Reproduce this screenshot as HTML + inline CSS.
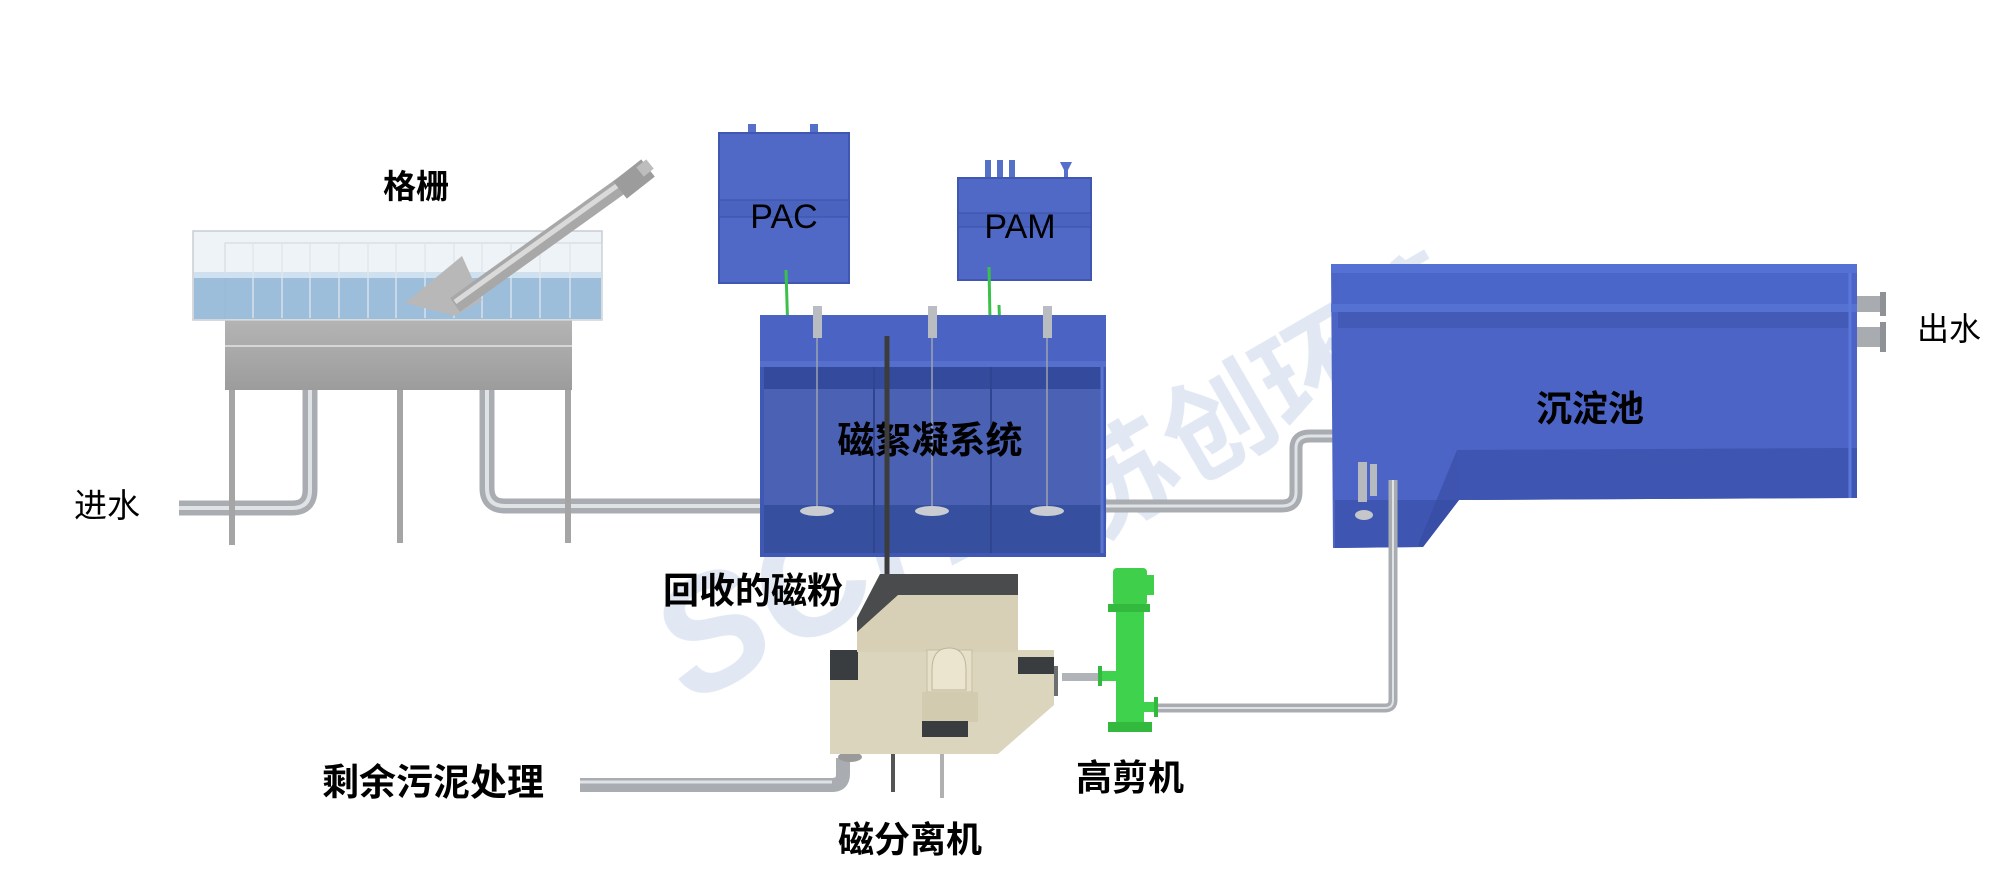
<!DOCTYPE html>
<html><head><meta charset="utf-8">
<style>
html,body{margin:0;padding:0;background:#fff;}
svg{display:block;}
text{font-family:"Liberation Sans","Noto Sans CJK SC",sans-serif;}
</style></head>
<body>
<svg width="2000" height="891" viewBox="0 0 2000 891" xmlns="http://www.w3.org/2000/svg">
<defs>
<linearGradient id="metal" x1="0" y1="0" x2="0" y2="1">
<stop offset="0" stop-color="#b4b4b4"/><stop offset="1" stop-color="#9c9c9c"/>
</linearGradient>
</defs>

<!-- Watermark -->
<g opacity="0.35" fill="#a9bedd">
<text x="0" y="0" font-size="160" font-weight="bold" font-style="italic" transform="translate(690,705) rotate(-28)">SCHS</text>
<text x="0" y="0" font-size="110" font-weight="bold" transform="translate(1095,540) rotate(-30)">苏创环境</text>
</g>

<!-- ===== Screen (格栅) ===== -->
<path d="M179 508 H292 Q310 508 310 490 V385" fill="none" stroke="#a9adb2" stroke-width="15"/>
<path d="M179 508 H292 Q310 508 310 490 V385" fill="none" stroke="#dfe3e6" stroke-width="4"/>
<path d="M487 385 V488 Q487 506 505 506 H762" fill="none" stroke="#a9adb2" stroke-width="15"/>
<path d="M487 385 V488 Q487 506 505 506 H762" fill="none" stroke="#dfe3e6" stroke-width="4"/>
<rect x="229" y="385" width="6" height="160" fill="#a5a5a5"/>
<rect x="397" y="385" width="6" height="158" fill="#a5a5a5"/>
<rect x="565" y="385" width="6" height="158" fill="#a5a5a5"/>
<rect x="225" y="320" width="347" height="70" fill="url(#metal)"/>
<line x1="225" y1="346" x2="572" y2="346" stroke="#d6d6d6" stroke-width="2"/>
<rect x="193" y="231" width="409" height="89" fill="#eef3f8" stroke="#c8cdd3" stroke-width="1.5"/>
<rect x="225" y="243" width="377" height="77" fill="none" stroke="#d2d6da" stroke-width="1"/>
<rect x="194" y="272" width="407" height="47" fill="#8db4d6" opacity="0.85"/>
<rect x="194" y="272" width="407" height="6" fill="#cfe1ef"/>
<g stroke="#dfe6ec" stroke-width="1.3">
<line x1="253" y1="243" x2="253" y2="318"/><line x1="282" y1="243" x2="282" y2="318"/>
<line x1="310" y1="243" x2="310" y2="318"/><line x1="339" y1="243" x2="339" y2="318"/>
<line x1="368" y1="243" x2="368" y2="318"/><line x1="396" y1="243" x2="396" y2="318"/>
<line x1="425" y1="243" x2="425" y2="318"/><line x1="454" y1="243" x2="454" y2="318"/>
<line x1="482" y1="243" x2="482" y2="318"/><line x1="511" y1="243" x2="511" y2="318"/>
<line x1="540" y1="243" x2="540" y2="318"/><line x1="570" y1="243" x2="570" y2="318"/>
</g>
<polygon points="405,303 462,256 482,300 455,316" fill="#b8b8b8"/>
<line x1="455" y1="305" x2="632" y2="178" stroke="#a8a8a8" stroke-width="17"/>
<line x1="455" y1="302" x2="632" y2="175" stroke="#dadada" stroke-width="5"/>
<line x1="620" y1="190" x2="648" y2="168" stroke="#9c9c9c" stroke-width="22"/>
<line x1="640" y1="172" x2="650" y2="164" stroke="#bdbdbd" stroke-width="12"/>

<!-- ===== PAC / PAM ===== -->
<rect x="748" y="124" width="8" height="14" fill="#5470c8"/>
<rect x="810" y="124" width="8" height="14" fill="#5470c8"/>
<rect x="719" y="133" width="130" height="150" fill="#5069c6" stroke="#3f57b0" stroke-width="2"/>
<rect x="719" y="200" width="130" height="17" fill="#4963bf" stroke="#3a51a8" stroke-width="1"/>
<text x="784" y="228" font-size="34" text-anchor="middle" fill="#000">PAC</text>

<rect x="985" y="160" width="6" height="20" fill="#5470c8"/>
<rect x="997" y="160" width="6" height="20" fill="#5470c8"/>
<rect x="1009" y="160" width="6" height="20" fill="#5470c8"/>
<polygon points="1060,162 1072,162 1068,170 1068,180 1064,180 1064,170" fill="#5470c8"/>
<rect x="958" y="178" width="133" height="102" fill="#5069c6" stroke="#3f57b0" stroke-width="2"/>
<rect x="958" y="213" width="133" height="14" fill="#4963bf" stroke="#3a51a8" stroke-width="1"/>
<text x="1020" y="238" font-size="34" text-anchor="middle" fill="#000">PAM</text>

<line x1="786" y1="270" x2="788" y2="336" stroke="#3cc04c" stroke-width="3"/>
<line x1="989" y1="267" x2="990" y2="320" stroke="#3cc04c" stroke-width="3"/>
<line x1="999" y1="305" x2="1000" y2="333" stroke="#3cc04c" stroke-width="3"/>

<!-- ===== Floc tank ===== -->
<rect x="760" y="315" width="346" height="242" fill="#3f58b4"/>
<rect x="760" y="315" width="346" height="46" fill="#4b64c3"/>
<rect x="760" y="361" width="346" height="6" fill="#5570cc"/>
<rect x="764" y="367" width="338" height="22" fill="#2f4593" opacity="0.7"/>
<rect x="764" y="389" width="338" height="116" fill="#4a61b4"/>
<rect x="764" y="505" width="338" height="48" fill="#36509f"/>
<line x1="874" y1="367" x2="874" y2="553" stroke="#2f4590" stroke-width="2"/>
<line x1="991" y1="367" x2="991" y2="553" stroke="#2f4590" stroke-width="2"/>
<line x1="1102" y1="367" x2="1102" y2="553" stroke="#5a74d0" stroke-width="3"/>
<g fill="#b9bcc0">
<rect x="813" y="306" width="9" height="32"/><rect x="928" y="306" width="9" height="32"/><rect x="1043" y="306" width="9" height="32"/>
</g>
<g stroke="#9ea3ad" stroke-width="1.5">
<line x1="817" y1="338" x2="817" y2="510"/><line x1="932" y1="338" x2="932" y2="510"/><line x1="1047" y1="338" x2="1047" y2="510"/>
</g>
<g fill="#c9ccd0">
<ellipse cx="817" cy="511" rx="17" ry="5"/><ellipse cx="932" cy="511" rx="17" ry="5"/><ellipse cx="1047" cy="511" rx="17" ry="5"/>
</g>
<text x="930" y="453" font-size="37" font-weight="bold" text-anchor="middle" fill="#000">磁絮凝系统</text>
<line x1="887" y1="336" x2="887" y2="592" stroke="#3c3c3c" stroke-width="5"/>

<path d="M1106 506 H1282 Q1296 506 1296 492 V448 Q1296 436 1310 436 H1333" fill="none" stroke="#a9adb2" stroke-width="13"/>
<path d="M1106 506 H1282 Q1296 506 1296 492 V448 Q1296 436 1310 436 H1333" fill="none" stroke="#e0e3e6" stroke-width="3"/>

<!-- ===== Settling tank ===== -->
<polygon points="1331,264 1857,264 1857,498 1459,500 1423,547 1333,548" fill="#4b64c6"/>
<rect x="1331" y="264" width="526" height="9" fill="#5571d3"/>
<rect x="1338" y="273" width="512" height="30" fill="#4a66c9"/>
<rect x="1331" y="304" width="526" height="8" fill="#5572d2"/>
<rect x="1338" y="312" width="512" height="16" fill="#3d55ab" opacity="0.6"/>
<polygon points="1457,450 1857,448 1857,498 1459,500" fill="#3e56b2"/>
<polygon points="1335,500 1459,500 1423,547 1335,548" fill="#3e56b2"/>
<polygon points="1457,450 1459,500 1423,547 1418,545" fill="#3549a0" opacity="0.6"/>
<line x1="1850" y1="273" x2="1850" y2="498" stroke="#5a78db" stroke-width="3"/>
<text x="1590" y="421" font-size="36" font-weight="bold" text-anchor="middle" fill="#000">沉淀池</text>
<rect x="1857" y="296" width="26" height="16" fill="#a8acb0"/>
<rect x="1880" y="292" width="6" height="24" fill="#8e9297"/>
<rect x="1857" y="327" width="26" height="20" fill="#a8acb0"/>
<rect x="1880" y="322" width="6" height="30" fill="#8e9297"/>
<text x="1917" y="340" font-size="32" fill="#000">出水</text>
<rect x="1358" y="462" width="9" height="40" fill="#b6b9bd"/>
<rect x="1370" y="464" width="7" height="32" fill="#b6b9bd"/>
<ellipse cx="1364" cy="515" rx="9" ry="5" fill="#c4c6c9"/>

<path d="M1393 480 V700 Q1393 708 1385 708 H1154" fill="none" stroke="#a9adb2" stroke-width="9"/>
<path d="M1393 480 V700 Q1393 708 1385 708 H1154" fill="none" stroke="#e0e3e6" stroke-width="2"/>

<!-- ===== Shear pump ===== -->
<rect x="1062" y="673" width="50" height="8" fill="#b0b4b8"/>
<rect x="1113" y="568" width="34" height="38" rx="4" fill="#3fcf4a"/>
<rect x="1146" y="575" width="8" height="20" fill="#3fcf4a"/>
<rect x="1108" y="604" width="42" height="8" fill="#34b93f"/>
<rect x="1116" y="612" width="28" height="115" fill="#3fd24c"/>
<rect x="1108" y="722" width="44" height="10" fill="#34b93f"/>
<rect x="1100" y="671" width="16" height="10" fill="#3fd24c"/>
<rect x="1098" y="666" width="4" height="20" fill="#34b93f"/>
<rect x="1144" y="702" width="12" height="10" fill="#3fd24c"/>
<rect x="1154" y="697" width="4" height="20" fill="#34b93f"/>
<text x="1130" y="790" font-size="36" font-weight="bold" text-anchor="middle" fill="#000">高剪机</text>

<!-- ===== Magnetic separator ===== -->
<path d="M580 785 H832 Q843 785 843 774 V758" fill="none" stroke="#a9adb2" stroke-width="14"/>
<path d="M580 782 H832" fill="none" stroke="#dfe3e6" stroke-width="3"/>
<rect x="891" y="754" width="4" height="38" fill="#555"/>
<rect x="940" y="754" width="4" height="44" fill="#b0b0b0"/>
<ellipse cx="850" cy="757" rx="12" ry="5" fill="#9a9a9a"/>
<polygon points="830,650 1054,650 1054,705 998,754 830,754" fill="#dcd5bd"/>
<rect x="830" y="650" width="28" height="30" fill="#3a3d40"/>
<rect x="1018" y="657" width="36" height="17" fill="#3a3d40"/>
<polygon points="880,574 1018,574 1018,652 857,652 857,618" fill="#d7d0b6"/>
<polygon points="880,574 1018,574 1018,595 898,595 857,632 857,618" fill="#4a4b4c"/>
<rect x="927" y="650" width="45" height="42" fill="#e6e0c9" stroke="#c5bea3" stroke-width="1"/>
<path d="M932 670 Q932 648 949 648 Q966 648 966 670 V690 H932 Z" fill="#ebe5cf" stroke="#bdb59a"/>
<rect x="922" y="692" width="56" height="30" fill="#d2cbb0"/>
<rect x="922" y="721" width="46" height="16" fill="#3a3d40"/>
<rect x="1054" y="666" width="4" height="30" fill="#6c6f72"/>
<text x="910" y="852" font-size="36" font-weight="bold" text-anchor="middle" fill="#000">磁分离机</text>

<text x="416" y="198" font-size="33" font-weight="bold" text-anchor="middle" fill="#000">格栅</text>
<text x="74" y="517" font-size="33" fill="#000">进水</text>
<text x="663" y="603" font-size="36" font-weight="bold" fill="#000">回收的磁粉</text>
<text x="322" y="795" font-size="37" font-weight="bold" fill="#000">剩余污泥处理</text>
</svg>
</body></html>
